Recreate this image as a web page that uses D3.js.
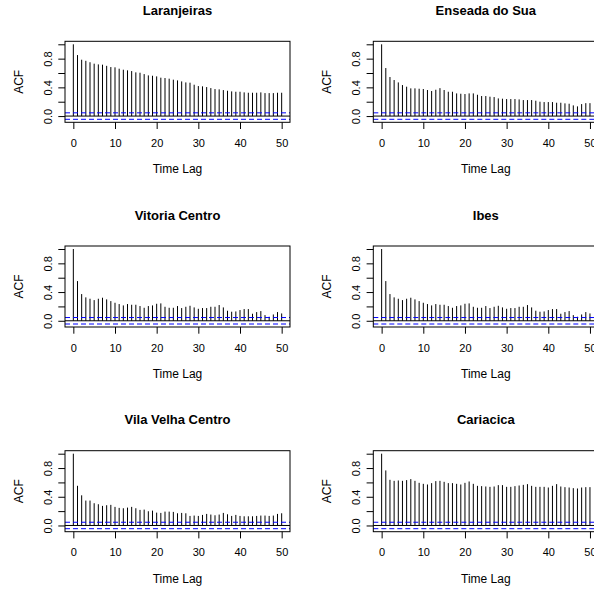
<!DOCTYPE html>
<html>
<head>
<meta charset="utf-8">
<script src="https://cdn.jsdelivr.net/npm/d3@7"></script>
<style>
  html, body { margin: 0; padding: 0; background: #ffffff; }
  svg { display: block; font-family: "Liberation Sans", Arial, Helvetica, sans-serif; }
</style>
</head>
<body>
<svg id="chart" width="594" height="592"></svg>
<script>
// ---- data ----
const stations = ["Laranjeiras", "Enseada do Sua", "Vitoria Centro", "Ibes", "Vila Velha Centro", "Cariacica"];

const acfLaranjeiras = [1.00,0.85,0.785,0.77,0.75,0.73,0.72,0.716,0.70,0.683,0.679,0.66,0.646,0.637,0.627,0.609,0.604,0.585,0.567,0.562,0.553,0.535,0.530,0.521,0.507,0.497,0.483,0.469,0.465,0.437,0.418,0.414,0.404,0.39,0.376,0.372,0.362,0.353,0.344,0.339,0.339,0.330,0.325,0.325,0.325,0.330,0.320,0.320,0.320,0.325,0.325];
const acfEnseada = [1.00,0.669,0.544,0.502,0.469,0.432,0.409,0.386,0.386,0.381,0.377,0.363,0.349,0.367,0.389,0.363,0.339,0.339,0.316,0.311,0.307,0.316,0.316,0.297,0.279,0.279,0.270,0.265,0.246,0.242,0.237,0.237,0.237,0.232,0.223,0.223,0.223,0.214,0.200,0.195,0.195,0.195,0.186,0.186,0.177,0.172,0.149,0.135,0.167,0.180,0.180];
const acfVitoria = [1.00,0.553,0.372,0.326,0.307,0.288,0.307,0.321,0.298,0.274,0.251,0.233,0.214,0.233,0.223,0.223,0.205,0.181,0.205,0.214,0.237,0.242,0.195,0.181,0.181,0.205,0.177,0.195,0.209,0.186,0.167,0.177,0.177,0.195,0.195,0.219,0.186,0.140,0.126,0.130,0.149,0.163,0.163,0.098,0.121,0.135,0.079,0.056,0.088,0.121,0.102];
const acfIbes = [1.00,0.553,0.372,0.326,0.307,0.288,0.307,0.321,0.298,0.274,0.251,0.233,0.214,0.233,0.223,0.223,0.205,0.181,0.205,0.214,0.237,0.242,0.195,0.181,0.181,0.205,0.177,0.195,0.209,0.186,0.167,0.177,0.177,0.195,0.195,0.219,0.186,0.140,0.126,0.130,0.149,0.163,0.163,0.098,0.121,0.135,0.079,0.056,0.088,0.121,0.102];
const acfVilaVelha = [1.00,0.553,0.42,0.347,0.347,0.31,0.296,0.273,0.282,0.287,0.259,0.245,0.24,0.249,0.259,0.24,0.217,0.221,0.198,0.207,0.179,0.175,0.193,0.193,0.189,0.17,0.175,0.17,0.133,0.138,0.133,0.147,0.161,0.152,0.142,0.152,0.175,0.156,0.133,0.147,0.133,0.128,0.128,0.128,0.133,0.138,0.138,0.133,0.138,0.161,0.17];
const acfCariacica = [1.00,0.767,0.636,0.622,0.627,0.622,0.632,0.646,0.622,0.594,0.580,0.571,0.590,0.618,0.622,0.608,0.590,0.590,0.580,0.571,0.594,0.613,0.580,0.552,0.548,0.543,0.538,0.543,0.562,0.562,0.538,0.538,0.548,0.557,0.566,0.576,0.552,0.538,0.538,0.538,0.529,0.552,0.576,0.543,0.534,0.529,0.520,0.515,0.529,0.534,0.534];

const acfSeries = [acfLaranjeiras, acfEnseada, acfVitoria, acfIbes, acfVilaVelha, acfCariacica];
const confBound = [0.045, 0.045, 0.045, 0.045, 0.045, 0.045];

const xTicks = [0, 10, 20, 30, 40, 50];
const yTicks = [0, 0.2, 0.4, 0.6, 0.8, 1.0];
const yTickLabels = ["0.0", "", "0.4", "", "0.8", ""];
const xAxisTitle = "Time Lag";
const yAxisTitle = "ACF";

// ---- layout ----
const svg = d3.select("#chart");
const colW = 308.3, rowH = 204.7;
const box = { left: 65, right: 290, top: 41.3, bottom: 122.3 };
const tickLen = 6.7;

stations.forEach((name, i) => {
  const col = i % 2, row = Math.floor(i / 2);
  const acf = acfSeries[i];
  const ci = confBound[i];
  const lags = d3.range(acf.length);

  const g = svg.append("g").attr("transform", `translate(${col * colW},${row * rowH})`);

  // R-style 4% axis padding
  const xLo = 0, xHi = lags.length - 1;
  const xPad = (xHi - xLo) * 0.04;
  const x = d3.scaleLinear().domain([xLo - xPad, xHi + xPad]).range([box.left, box.right]);
  const yLo = Math.min(-ci, d3.min(acf)), yHi = Math.max(1, d3.max(acf));
  const yPad = (yHi - yLo) * 0.04;
  const y = d3.scaleLinear().domain([yLo - yPad, yHi + yPad]).range([box.bottom, box.top]);

  // bars (type = "h")
  g.append("g").selectAll("line").data(lags).join("line")
    .attr("x1", d => x(d)).attr("x2", d => x(d))
    .attr("y1", y(0)).attr("y2", d => y(acf[d]))
    .attr("stroke", "#000").attr("stroke-width", 1);

  // zero line
  g.append("line").attr("x1", box.left).attr("x2", box.right)
    .attr("y1", y(0)).attr("y2", y(0)).attr("stroke", "#000").attr("stroke-width", 1);

  // confidence bounds
  [ci, -ci].forEach(v => {
    g.append("line").attr("x1", box.left).attr("x2", box.right)
      .attr("y1", y(v)).attr("y2", y(v))
      .attr("stroke", "#0000ff").attr("stroke-width", 1)
      .attr("stroke-dasharray", "5,3");
  });

  // box
  g.append("rect").attr("x", box.left).attr("y", box.top)
    .attr("width", box.right - box.left).attr("height", box.bottom - box.top)
    .attr("fill", "none").attr("stroke", "#000").attr("stroke-width", 1);

  // x axis
  const xAxis = g.append("g").attr("transform", `translate(0,${box.bottom})`)
    .call(d3.axisBottom(x).tickValues(xTicks).tickSize(tickLen).tickSizeOuter(0).tickFormat(d3.format("d")));
  xAxis.select(".domain").remove();
  xAxis.selectAll(".tick line").attr("stroke", "#000");
  xAxis.selectAll(".tick text").attr("y", 24.7).attr("dy", 0)
    .attr("font-size", 11).attr("fill", "#000").attr("font-family", "Liberation Sans, Arial, sans-serif");

  // y axis
  const yAxis = g.append("g").attr("transform", `translate(${box.left},0)`)
    .call(d3.axisLeft(y).tickValues(yTicks).tickSize(tickLen).tickSizeOuter(0)
      .tickFormat((d, k) => yTickLabels[k]));
  yAxis.select(".domain").remove();
  yAxis.selectAll(".tick line").attr("stroke", "#000");
  yAxis.selectAll(".tick text")
    .attr("x", 0).attr("y", -13).attr("dy", 0)
    .attr("transform", "rotate(-90)")
    .attr("text-anchor", "middle")
    .attr("font-size", 11).attr("fill", "#000").attr("font-family", "Liberation Sans, Arial, sans-serif");

  // titles
  const cx = (box.left + box.right) / 2;
  g.append("text").attr("x", cx).attr("y", 15).attr("text-anchor", "middle")
    .attr("font-size", 13).attr("font-weight", "bold").attr("fill", "#000").text(name);
  g.append("text").attr("x", cx).attr("y", 173.3).attr("text-anchor", "middle")
    .attr("font-size", 12).attr("fill", "#000").text(xAxisTitle);
  const cy = (box.top + box.bottom) / 2;
  g.append("text").attr("transform", `translate(22.6,${cy}) rotate(-90)`)
    .attr("text-anchor", "middle").attr("font-size", 12).attr("fill", "#000").text(yAxisTitle);
});
</script>
</body>
</html>
